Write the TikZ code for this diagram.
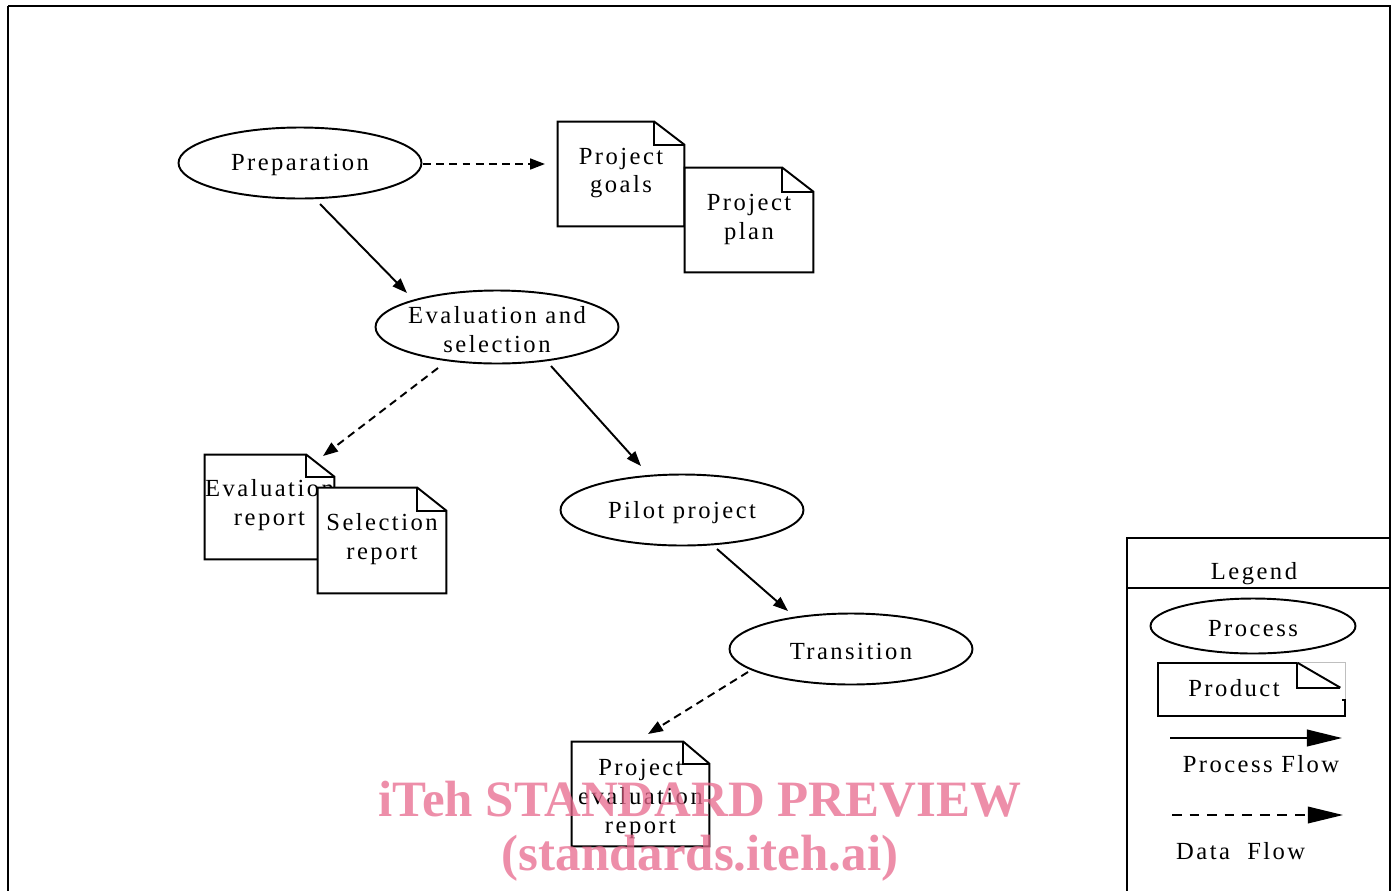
\documentclass[tikz,border=0pt]{standalone}
\usepackage{fontspec}
\setmainfont{Liberation Serif}[LetterSpace=10]
\newfontfamily\wmfont{Liberation Serif}
\usetikzlibrary{arrows.meta,shapes.geometric,calc}
\definecolor{wm}{RGB}{232,105,141}
\newcommand\pxu{0.02cm}
\newcommand\docnode[9]{%
  \node[docbox, minimum width=#4*\pxu, minimum height=#5*\pxu] (#1) at (#2,#3) {};
  \draw[docline] (#1.north west) -- ([xshift=-#6*\pxu]#1.north east) -- ([yshift=-#7*\pxu]#1.north east) -- (#1.south east) -- (#1.south west) -- cycle;
  \draw[docline] ([xshift=-#6*\pxu]#1.north east) |- ([yshift=-#7*\pxu]#1.north east);
  \node[align=center] (#1txt) at ($(#1)+(#9)$) {#8};
}
\begin{document}
\begin{tikzpicture}[x=0.02cm,y=-0.02cm,
  every node/.style={font=\fontsize{14}{16.5}\selectfont},
  every label/.style={yshift=-1.3pt},
  proc/.style={ellipse, draw, line width=1.1pt, inner sep=0pt, minimum width=4.86cm, minimum height=1.42cm},
  docbox/.style={rectangle, fill=white, inner sep=0pt, align=center},
  docline/.style={line width=1.1pt, line join=miter},
  flow/.style={line width=1.1pt, -{Triangle[length=8.5pt,width=6.2pt]}},
  data/.style={flow, dash pattern=on 4.5pt off 3pt},
  bigflow/.style={line width=1.1pt, -{Triangle[length=20pt,width=9.5pt]}},
  bigdata/.style={bigflow, line width=0.8pt, dash pattern=on 5.5pt off 4.5pt},
  frame/.style={line width=1.3pt},
  wmtext/.style={font=\wmfont\bfseries\fontsize{29}{32}\selectfont, text=wm, opacity=0.75}
]
\useasboundingbox (0,0) rectangle (1396,890);
\clip (0,0) rectangle (1396,890);
\fill[white] (0,0) rectangle (1396,890);
\draw[frame] (8,6) -- (1390,6) -- (1390,900);
\draw[frame] (8,6) -- (8,900);

% processes
\node[proc, label={center:Preparation}] (prep) at (300,163) {};
\node[proc, minimum height=1.46cm, label={[align=center]center:Evaluation and\\selection}] (eval) at (497,327) {};
\node[proc, label={center:Pilot project}] (pilot) at (682,510) {};
\node[proc, label={center:Transition}] (trans) at (851,649) {};

% products
\docnode{goals}{621}{174}{126}{104}{30}{23}{Project\\goals}{0,-1}
\docnode{plan}{749}{220}{128}{104}{31}{24}{Project\\plan}{0,-1}
\docnode{evalrep}{269.5}{507}{129}{104}{28}{22}{Evaluation\\report}{0,-2}
\docnode{selrep}{382}{540.5}{128}{105}{29}{23}{Selection\\report}{0,-1}
\docnode{perep}{640.5}{794}{137}{104}{26}{22}{Project\\evaluation\\report}{0,5}

% flows
\draw[data] ($(prep)+(123,1)$) -- ($(goals)+(-76,-10)$);
\draw[flow] ($(prep)+(20,41)$) -- ($(eval)+(-90,-34)$);
\draw[data] ($(eval)+(-59,41)$) -- ($(evalrep)+(53.5,-51)$);
\draw[flow] ($(eval)+(54,39)$) -- ($(pilot)+(-41,-44)$);
\draw[flow] ($(pilot)+(35,39)$) -- ($(trans)+(-63,-38)$);
\draw[data] ($(trans)+(-103,23)$) -- ($(perep)+(7.5,-60)$);

% legend
\draw[frame] (1127,900) -- (1127,538) -- (1390,538);
\draw[line width=1pt] (1127,588) -- (1390,588);
\node (legtitle) at (1254,574) {Legend};
\node[proc, minimum width=4.1cm, minimum height=1.1cm, label={center:Process}] (legproc) at (1253,626) {};
\node[docbox, minimum width=187*\pxu, minimum height=53*\pxu] (prod) at (1251.5,689.5) {};
\node (prodtxt) at (1234,688) {Product};
\draw[gray!50, line width=0.4pt] ([xshift=-48*\pxu]prod.north east) -- (prod.north east) -- ([yshift=-37*\pxu]prod.north east);
\draw[docline] ([xshift=-48*\pxu]prod.north east) -- ([xshift=-5*\pxu,yshift=-25*\pxu]prod.north east);
\draw[docline] ([xshift=-48*\pxu]prod.north east) |- ([xshift=-5*\pxu,yshift=-25*\pxu]prod.north east);
\draw[docline] ([xshift=-3*\pxu,yshift=-37*\pxu]prod.north east) -| (prod.south east) -- (prod.south west) -- (prod.north west) -- ([xshift=-48*\pxu]prod.north east);
\coordinate (pf1) at (1170,738);
\coordinate (pf2) at (1342,738);
\draw[bigflow] (pf1) -- (pf2);
\node (pflow) at (1261,764) {Process Flow};
\coordinate (df1) at (1172,815);
\coordinate (df2) at (1343,815);
\draw[bigdata] (df1) -- (df2);
\node[anchor=west] (dflow) at (1170,851) {Data\ \ Flow};

% watermark
\node[wmtext] (wm1) at (700,799) {iTeh STANDARD PREVIEW};
\node[wmtext] (wm2) at (700,858) {(standards.iteh.ai)};
\end{tikzpicture}
\end{document}
